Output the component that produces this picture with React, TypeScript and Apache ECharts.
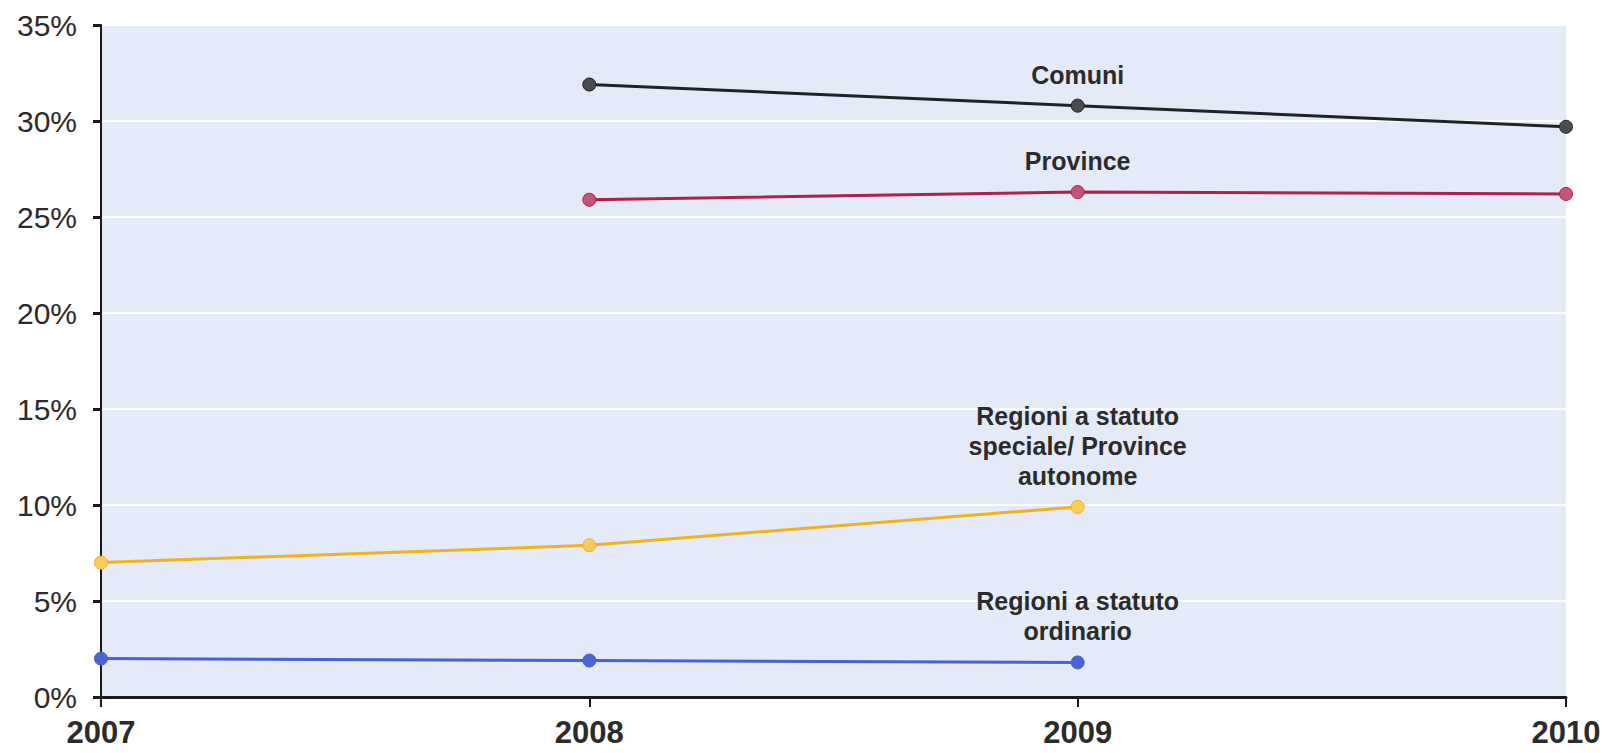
import React, { useEffect, useRef } from "react";
import * as echarts from "echarts";

const years = ["2007", "2008", "2009", "2010"];
const yTicks = [0, 5, 10, 15, 20, 25, 30, 35];
const comuni = [null, 31.9, 30.8, 29.7];
const province = [null, 25.9, 26.3, 26.2];
const regioniSpeciali = [7.0, 7.9, 9.9, null];
const regioniOrdinarie = [2.0, 1.9, 1.8, null];

const labelIndex = 2;

function withLabel(values: (number | null)[], text: string) {
  return values.map((v, i) =>
    i === labelIndex
      ? {
          value: v,
          label: {
            show: true,
            formatter: text,
            position: "top",
            distance: 9,
            color: "#2b2b2b",
            fontSize: 25,
            fontWeight: "bold",
            fontFamily: "Liberation Sans, Arial, sans-serif",
            lineHeight: 30,
            align: "center",
          },
        }
      : v
  );
}

export default function App() {
  const ref = useRef<HTMLDivElement>(null);
  useEffect(() => {
    document.body.style.margin = "0";
    const chart = echarts.init(ref.current!, null, { renderer: "svg" });
    const mkSeries = (name: string, data: any[], line: string, dot: string) => ({
      name,
      type: "line",
      data,
      symbol: "circle",
      symbolSize: 13,
      lineStyle: { color: line, width: 3 },
      itemStyle: { color: dot, borderColor: line, borderWidth: 1 },
      connectNulls: false,
    });
    chart.setOption({
      animation: false,
      grid: {
        left: 101,
        right: 40,
        top: 25,
        bottom: 56,
        show: true,
        backgroundColor: "#e4eaf7",
        borderWidth: 0,
      },
      xAxis: {
        type: "category",
        data: years,
        boundaryGap: false,
        axisLine: { lineStyle: { color: "#1a1a1a", width: 3 } },
        axisTick: { show: true, length: 10, lineStyle: { color: "#1a1a1a", width: 2 } },
        axisLabel: {
          color: "#2b2b2b",
          fontSize: 31,
          fontWeight: "bold",
          fontFamily: "Liberation Sans, Arial, sans-serif",
          margin: 20,
        },
        splitLine: { show: false },
      },
      yAxis: {
        type: "value",
        min: yTicks[0],
        max: yTicks[yTicks.length - 1],
        interval: 5,
        axisLine: { show: true, lineStyle: { color: "#1a1a1a", width: 2 } },
        axisTick: { show: true, length: 8, lineStyle: { color: "#1a1a1a", width: 3 } },
        axisLabel: {
          formatter: "{value}%",
          color: "#2b2b2b",
          fontSize: 30,
          fontFamily: "Liberation Sans, Arial, sans-serif",
          margin: 24,
        },
        splitLine: { show: true, lineStyle: { color: "#ffffff", width: 2 } },
      },
      series: [
        mkSeries("Comuni", withLabel(comuni, "Comuni"), "#1f2227", "#4a4c52"),
        mkSeries("Province", withLabel(province, "Province"), "#b0204c", "#c4557a"),
        mkSeries(
          "Regioni a statuto speciale/ Province autonome",
          withLabel(regioniSpeciali, "Regioni a statuto\nspeciale/ Province\nautonome"),
          "#f0b11e",
          "#f8cc5c"
        ),
        mkSeries(
          "Regioni a statuto ordinario",
          withLabel(regioniOrdinarie, "Regioni a statuto\nordinario"),
          "#4862d2",
          "#4a64d4"
        ),
      ],
    });
    return () => chart.dispose();
  }, []);
  return (
    <div
      ref={ref}
      style={{ position: "fixed", left: 0, top: 0, width: 1606, height: 753, background: "#fff" }}
    />
  );
}
